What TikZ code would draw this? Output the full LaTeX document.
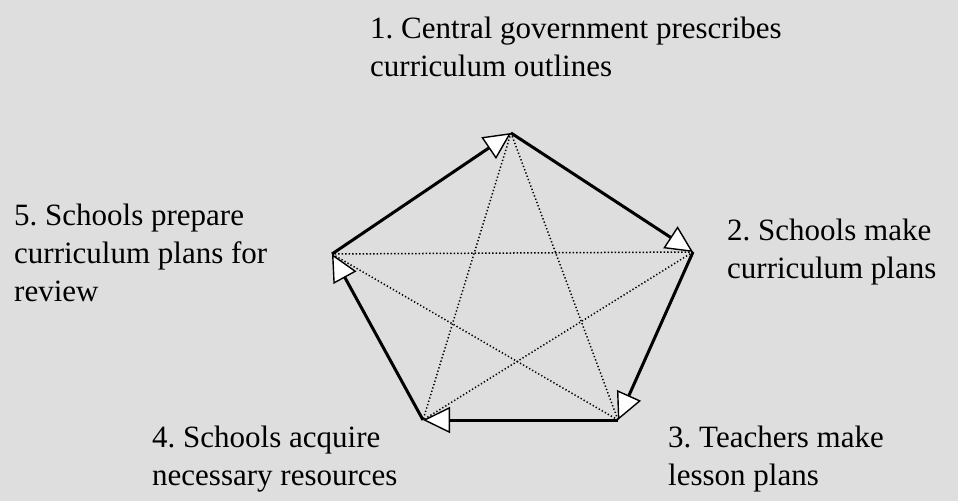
\documentclass[tikz,border=0pt]{standalone}
\usepackage{fontspec}
\setmainfont{Liberation Serif}
\usetikzlibrary{arrows.meta}
\frenchspacing

\begin{document}
\begin{tikzpicture}[x=1pt,y=-1pt,
        flow/.style={line width=3pt,-{Triangle[length=27pt,width=26pt,line width=1.4pt,fill=white]}},
        link/.style={line width=1.5pt,dash pattern=on 1.3pt off 2.2pt},
        stage/.style={anchor=north west,inner sep=0pt,align=left,font=\fontsize{31}{38}\selectfont}]
        \fill[black!13] (0,0) rectangle (958,501);
        \useasboundingbox (0,0) rectangle (958,501);
        \coordinate (p1) at (511,133);
        \coordinate (p2) at (693,252);
        \coordinate (p3) at (618,420);
        \coordinate (p4) at (423,420);
        \coordinate (p5) at (332,254);
        \node[stage] (s1) at (370,17) {1. Central government prescribes\\curriculum outlines};
        \node[stage] (s2) at (727,219) {2. Schools make\\curriculum plans};
        \node[stage] (s3) at (668,426) {3. Teachers make\\lesson plans};
        \node[stage] (s4) at (152,426) {4. Schools acquire\\necessary resources};
        \node[stage] (s5) at (14,204) {5. Schools prepare\\curriculum plans for\\review};
        \draw[link] (p1) -- (p3);
        \draw[link] (p1) -- (p4);
        \draw[link] (p2) -- (p5);
        \draw[link] (p2) -- (p4);
        \draw[link] (p3) -- (p5);
        \draw[flow] (p5) -- (p1);
        \draw[flow] (p1) -- (p2);
        \draw[flow] (p2) -- (p3);
        \draw[flow] (p3) -- (p4);
        \draw[flow] (p4) -- (p5);
    \end{tikzpicture}
\end{document}
